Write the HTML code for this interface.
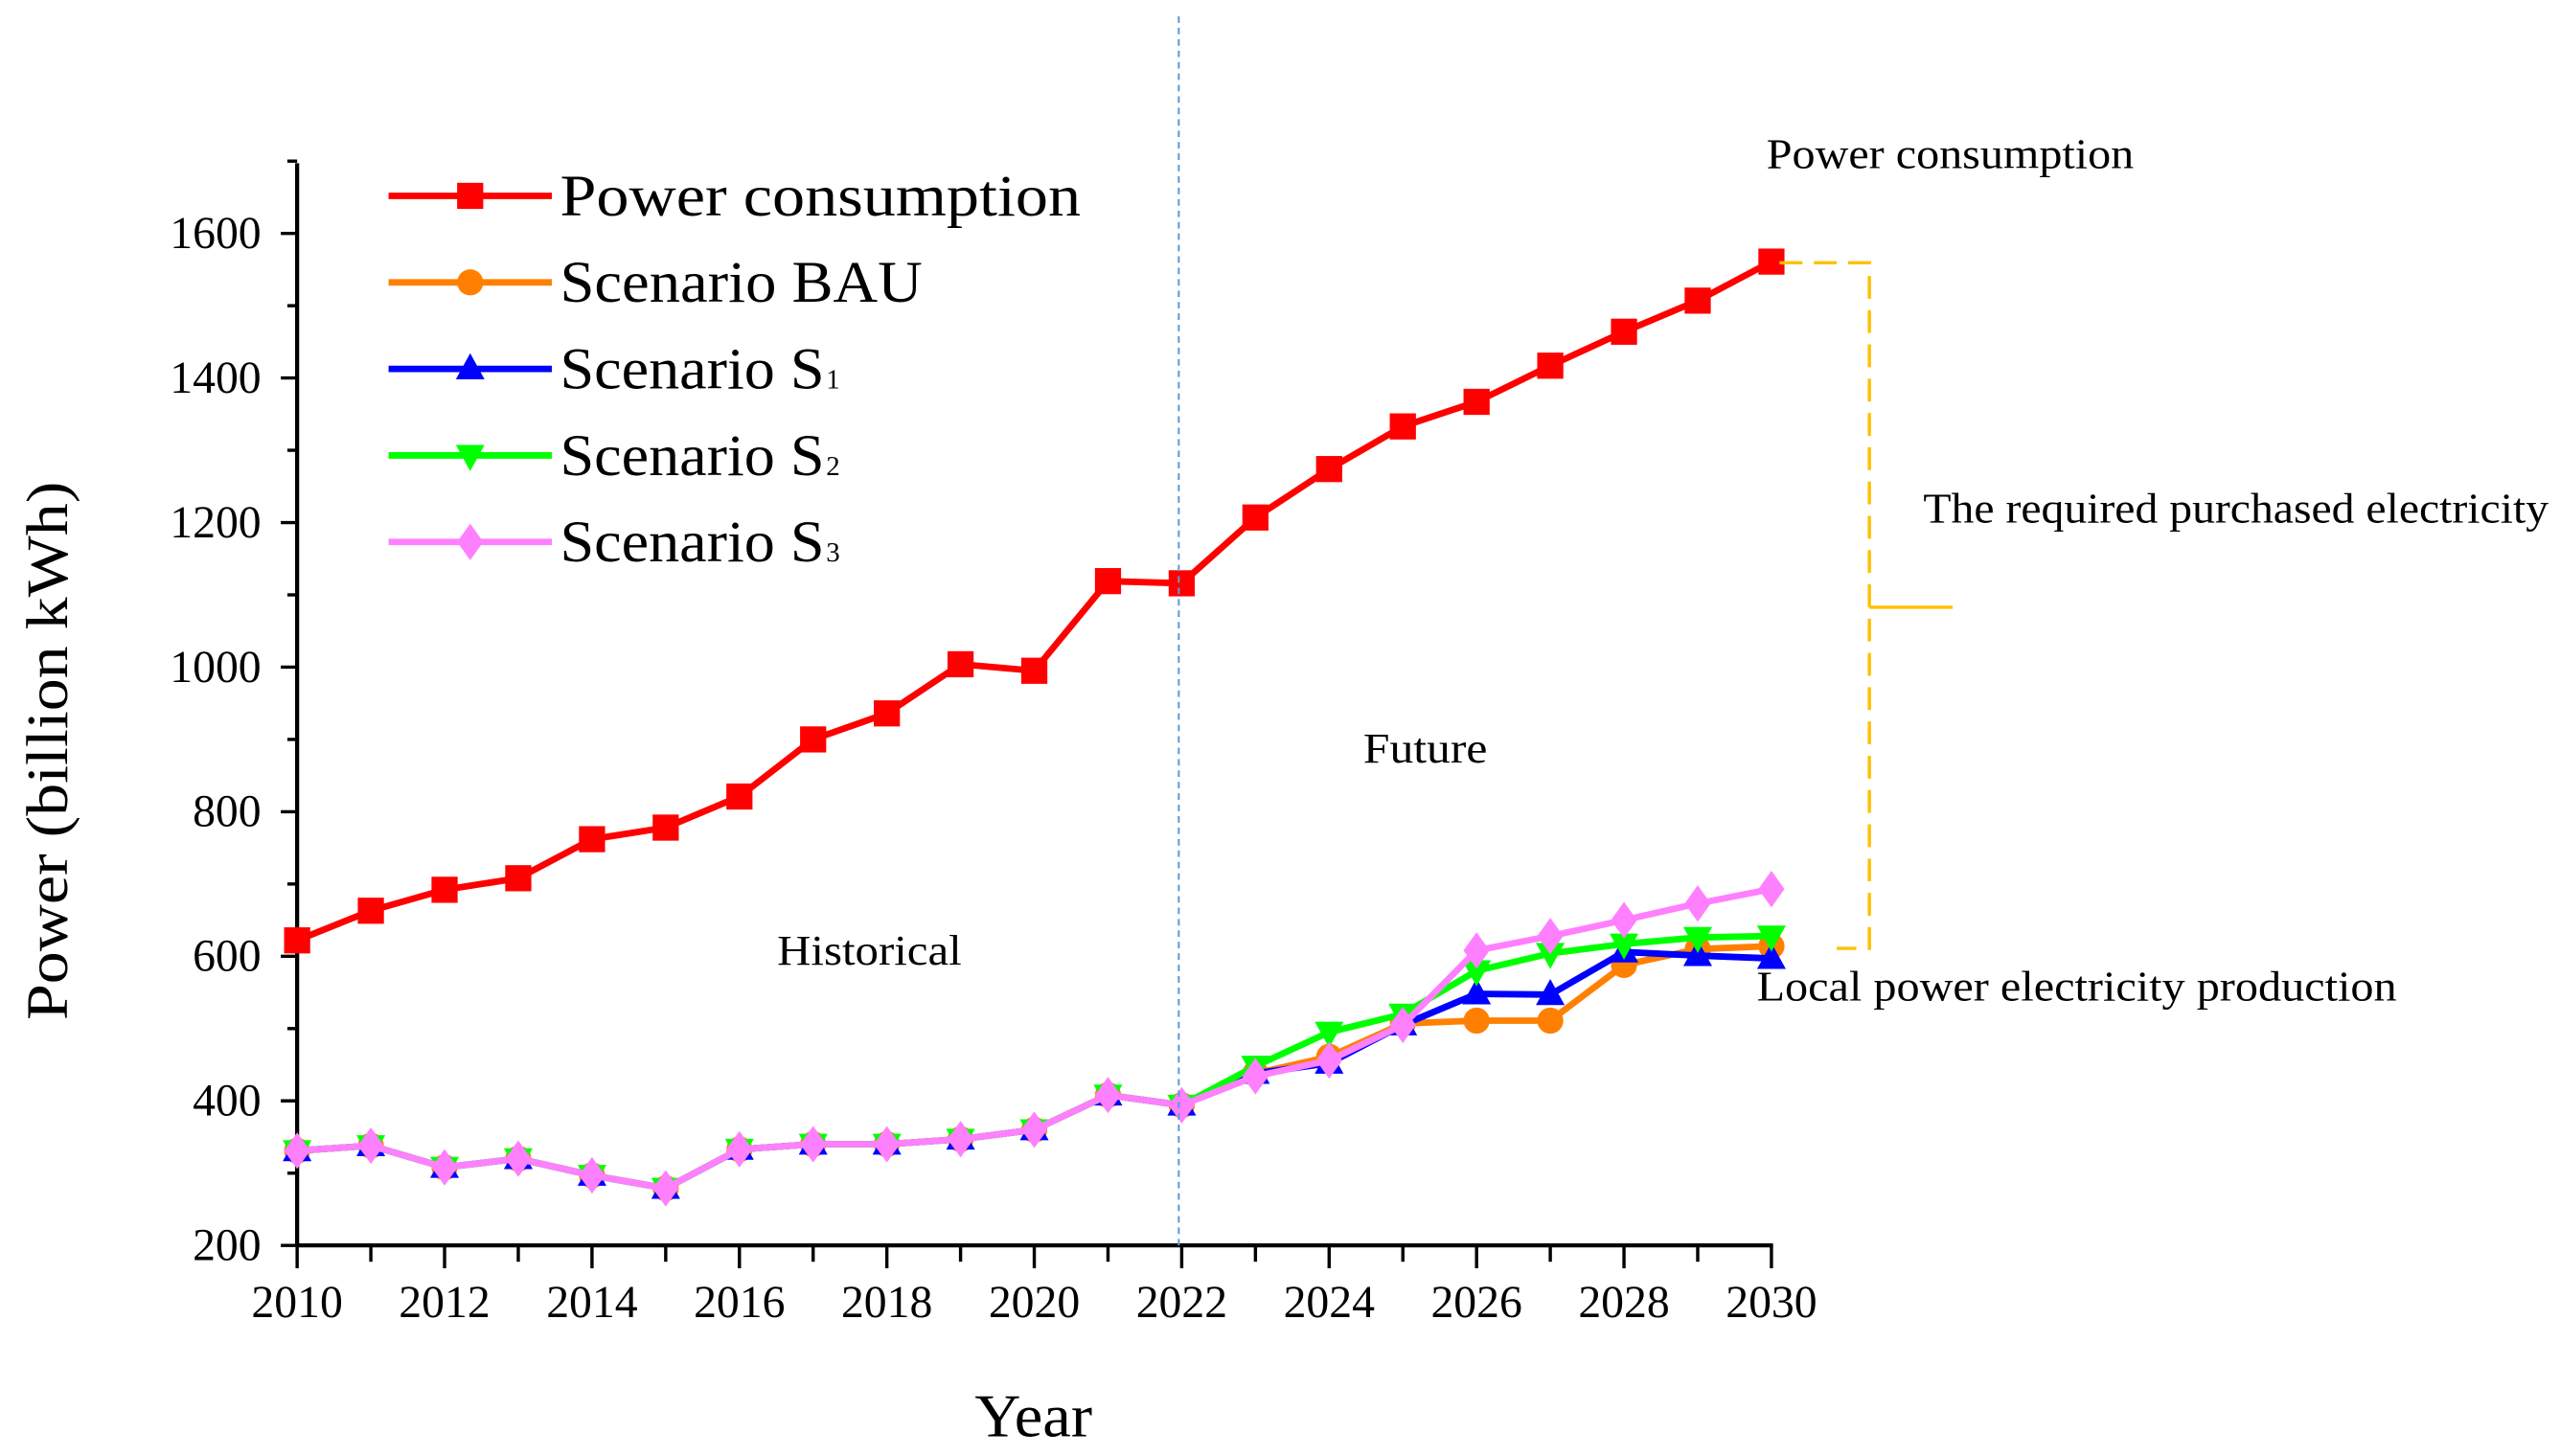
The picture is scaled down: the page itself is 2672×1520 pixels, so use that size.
<!DOCTYPE html>
<html><head><meta charset="utf-8"><style>
html,body{margin:0;padding:0;background:#fff;}
svg{display:block;font-family:"Liberation Serif",serif;}
</style></head><body>
<svg id="chart" width="2672" height="1520" viewBox="0 0 1568 892" preserveAspectRatio="none" xmlns="http://www.w3.org/2000/svg">
<g id="axes"></g>
<g id="series"></g>
<g id="annot">
<line x1="722" y1="10" x2="722" y2="763" stroke="#5b9bd5" stroke-width="1.2" stroke-dasharray="4,3"/>
<path d="M1090 161 H1145 V581 H1125" fill="none" stroke="#ffc000" stroke-width="2" stroke-dasharray="14,7"/>
<line x1="1145" y1="372" x2="1196" y2="372" stroke="#ffc000" stroke-width="2"/>
<text x="1082" y="103" font-size="26" textLength="225" lengthAdjust="spacingAndGlyphs">Power consumption</text>
<text x="1178" y="320" font-size="26" textLength="383" lengthAdjust="spacingAndGlyphs">The required purchased electricity</text>
<text x="835" y="467" font-size="26" textLength="76" lengthAdjust="spacingAndGlyphs">Future</text>
<text x="476" y="591" font-size="26" textLength="113" lengthAdjust="spacingAndGlyphs">Historical</text>
<text x="1076" y="613" font-size="26" textLength="392" lengthAdjust="spacingAndGlyphs">Local power electricity production</text>
<text transform="translate(41,460) rotate(-90)" text-anchor="middle" font-size="36" textLength="330" lengthAdjust="spacingAndGlyphs">Power  (billion kWh)</text>
<text x="633" y="880" text-anchor="middle" font-size="37" textLength="72" lengthAdjust="spacingAndGlyphs">Year</text>
</g>
<g id="legend"></g>
</svg>
<script>
const years=[2010,2011,2012,2013,2014,2015,2016,2017,2018,2019,2020,2021,2022,2023,2024,2025,2026,2027,2028,2029,2030];
const hist=[331,338,308,320,297,279,333,340,340,347,360,408,394];
const consumption=[622,663,692,708,762,778,821,900,936,1004,995,1119,1116,1207,1274,1333,1367,1417,1464,1507,1561];
const bau=hist.concat([438,461,507,511,511,588,610,614]);
const s1=hist.concat([438,452,505,548,547,606,601,597]);
const s2=hist.concat([448,495,520,580,604,617,626,628]);
const s3=hist.concat([434,456,505,608,628,650,673,693]);
const yTicks=[200,400,600,800,1000,1200,1400,1600];
const xTicks=[2010,2012,2014,2016,2018,2020,2022,2024,2026,2028,2030];
const NS="http://www.w3.org/2000/svg";
const X=v=>182+(v-2010)*(1085-182)/20;
const Y=v=>763-(v-200)*(763-143)/1400;
function mk(tag,attrs,parent,txt){const e=document.createElementNS(NS,tag);for(const k in attrs)e.setAttribute(k,attrs[k]);if(txt!==undefined)e.textContent=txt;parent.appendChild(e);return e;}
const axes=document.getElementById('axes');
let a=mk('line',{x1:182,y1:100,x2:182,y2:764,stroke:'#000','stroke-width':2.5},axes);

a=mk('line',{x1:181,y1:763,x2:1086,y2:763,stroke:'#000','stroke-width':2.5},axes);

for(let v=200;v<=1700;v+=100){const major=v%200===0;mk('line',{x1:major?172:176,y1:Y(v),x2:182,y2:Y(v),stroke:'#000','stroke-width':2},axes);}
yTicks.forEach(v=>{const t=mk('text',{x:160,y:Y(v)+9,'text-anchor':'end','font-size':28},axes,v);
});
for(let y=2010;y<=2030;y++){const major=y%2===0;mk('line',{x1:X(y),y1:763,x2:X(y),y2:major?777:773,stroke:'#000','stroke-width':2},axes);}
xTicks.forEach(v=>{const t=mk('text',{x:X(v),y:807,'text-anchor':'middle','font-size':28},axes,v);
});
function marker(type,cx,cy,color,parent,s){
 if(type==='square')return mk('rect',{x:cx-s,y:cy-s,width:2*s,height:2*s,fill:color},parent);
 if(type==='circle')return mk('circle',{cx:cx,cy:cy,r:s,fill:color},parent);
 if(type==='up')return mk('polygon',{points:`${cx},${cy-s*1.2} ${cx-s*1.1},${cy+s*0.8} ${cx+s*1.1},${cy+s*0.8}`,fill:color},parent);
 if(type==='down')return mk('polygon',{points:`${cx},${cy+s*1.2} ${cx-s*1.1},${cy-s*0.8} ${cx+s*1.1},${cy-s*0.8}`,fill:color},parent);
 return mk('polygon',{points:`${cx},${cy-s*1.4} ${cx-s},${cy} ${cx},${cy+s*1.4} ${cx+s},${cy}`,fill:color},parent);
}
const defs=[
 {name:'Power consumption',vals:consumption,color:'#ff0000',m:'square',id:'consumption',w:319},
 {name:'Scenario BAU',vals:bau,color:'#ff8000',m:'circle',id:'bau',w:222},
 {name:'Scenario S',sub:'1',vals:s1,color:'#0000ff',m:'up',id:'s1',w:162},
 {name:'Scenario S',sub:'2',vals:s2,color:'#00ff00',m:'down',id:'s2',w:162},
 {name:'Scenario S',sub:'3',vals:s3,color:'#ff80ff',m:'diamond',id:'s3',w:162}];
const series=document.getElementById('series');
defs.forEach(d=>{
 const g=mk('g',{},series);
 
 const pts=d.vals.map((v,i)=>X(years[i])+','+Y(v)).join(' ');
 const l=mk('polyline',{points:pts,fill:'none',stroke:d.color,'stroke-width':4},g);
 
 d.vals.forEach((v,i)=>{const mm=marker(d.m,X(years[i]),Y(v),d.color,g,8);
  });
});
const legend=document.getElementById('legend');
defs.forEach((d,i)=>{
 const y=120+i*53;
 const g=mk('g',{},legend);
 
 mk('line',{x1:238,y1:y,x2:338,y2:y,stroke:d.color,'stroke-width':4},g);
 marker(d.m,288,y,d.color,g,8);
 const t=mk('text',{x:343,y:y+12,'font-size':36,textLength:d.w,lengthAdjust:'spacingAndGlyphs'},g,d.name);
 if(d.sub){const s=mk('text',{x:343+d.w+1,y:y+12,'font-size':17},g,d.sub);}
});
</script>
</body></html>
